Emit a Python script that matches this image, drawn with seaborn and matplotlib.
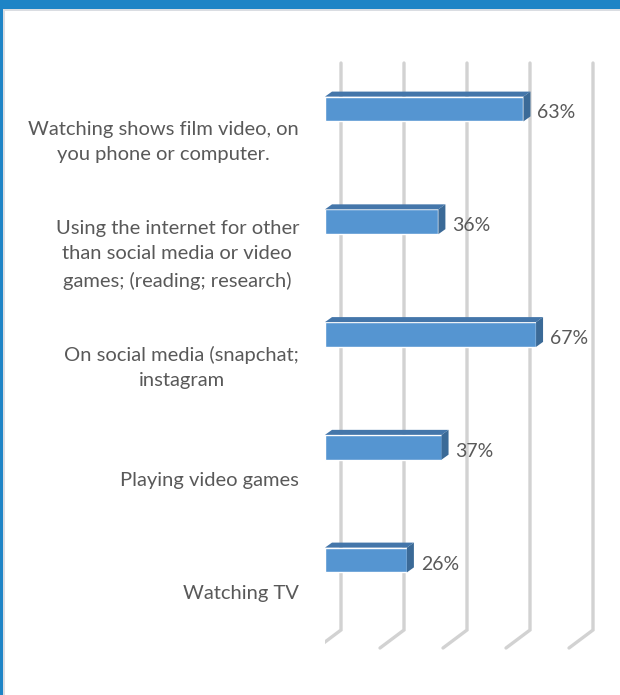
import matplotlib
matplotlib.use("Agg")
import matplotlib.pyplot as plt
from matplotlib.patches import Polygon, Rectangle
from matplotlib.lines import Line2D
from matplotlib.transforms import offset_copy
import seaborn as sns
import pandas as pd

categories = [
    "Watching shows film video, on\nyou phone or computer.",
    "Using the internet for other\nthan social media or video\ngames; (reading; research)",
    "On social media (snapchat;\ninstagram",
    "Playing video games",
    "Watching TV",
]
values = [63, 36, 67, 37, 26]
grid_values = [0, 20, 40, 60, 80]

W, H = 620, 695
sns.set_theme(style="white")
plt.rcParams["font.family"] = ["Lato", "DejaVu Sans"]

fig = plt.figure(figsize=(W / 100, H / 100), dpi=100)
fig.patch.set_facecolor("white")

# plot area in pixels: value 0 at x=325, 3.15 px per percent; rows 112.75 px apart
x0_px, ppx = 325, 3.15
row0_px, row_px = 109, 112.75
ax_top, ax_bot = 55, 660
ax = fig.add_axes([x0_px / W, (H - ax_bot) / H, (W - x0_px) / W, (ax_bot - ax_top) / H])
ax.set_xlim(0, (W - x0_px) / ppx)

df = pd.DataFrame({"activity": categories, "share": values})
sns.barplot(data=df, x="share", y="activity", orient="h", color="#5595d1",
            saturation=1, width=0.22, ax=ax, zorder=3)
ax.set_ylim((ax_bot - row0_px) / row_px, (ax_top - row0_px) / row_px)
ax.set_axis_off()

inv = ax.transData.inverted()


def px(x, y):
    """figure pixel (from top-left) -> data coordinates"""
    return inv.transform((x, H - y))


# back-wall gridlines with their floor segments
for v in grid_values:
    bx = ax.transData.transform((v, 0))[0] + 16
    pts = [px(bx, 63), px(bx, 630), px(bx - 24, 648)]
    ax.add_line(Line2D([p[0] for p in pts], [p[1] for p in pts], color="#d2d2d2",
                       lw=2.4, solid_joinstyle="miter", zorder=1))

# 3D depth faces for each bar
ddx, ddy = 7, 5
for patch, val in zip(ax.patches, values):
    x0d, y0d = patch.get_x(), patch.get_y()
    x1d, y1d = x0d + patch.get_width(), y0d + patch.get_height()
    (X0, Yb), (X1, Yt) = ax.transData.transform([(x0d, y1d), (x1d, y0d)])
    top = [(X0, Yt), (X1, Yt), (X1 + ddx, Yt + ddy), (X0 + ddx, Yt + ddy)]
    side = [(X1, Yt), (X1 + ddx, Yt + ddy), (X1 + ddx, Yb + ddy), (X1, Yb)]
    for face, col in ((top, "#4476aa"), (side, "#3b6a97")):
        ax.add_patch(Polygon(inv.transform(face), closed=True, facecolor=col,
                             edgecolor="none", zorder=3))

# value labels
for i, val in enumerate(values):
    ax.text(val, i, f"{val}%", transform=offset_copy(ax.transData, fig=fig, x=14, y=-4, units="dots"),
            ha="left", va="center", fontsize=14, color="#595959", zorder=4)

# category labels
for i, lab in enumerate(categories):
    ax.text(0, i, lab, transform=offset_copy(ax.transData, fig=fig, x=-26, y=-33, units="dots"),
            ha="right", va="center", multialignment="center", fontsize=14.5,
            color="#595959", linespacing=1.6)

# frame: blue band on top and left edge, with a light inner rule
fig.patches.append(Rectangle((0, (H - 9) / H), 1, 9 / H, transform=fig.transFigure,
                             facecolor="#1e84c6", edgecolor="none", zorder=10))
fig.patches.append(Rectangle((0, 0), 3 / W, 1, transform=fig.transFigure,
                             facecolor="#1e84c6", edgecolor="none", zorder=10))
fig.patches.append(Rectangle((3 / W, (H - 11) / H), 1, 2 / H, transform=fig.transFigure,
                             facecolor="#dadde2", edgecolor="none", zorder=9))
fig.patches.append(Rectangle((3 / W, 0), 2 / W, (H - 9) / H, transform=fig.transFigure,
                             facecolor="#dadde2", edgecolor="none", zorder=9))

fig.savefig("out.png", dpi=100)
